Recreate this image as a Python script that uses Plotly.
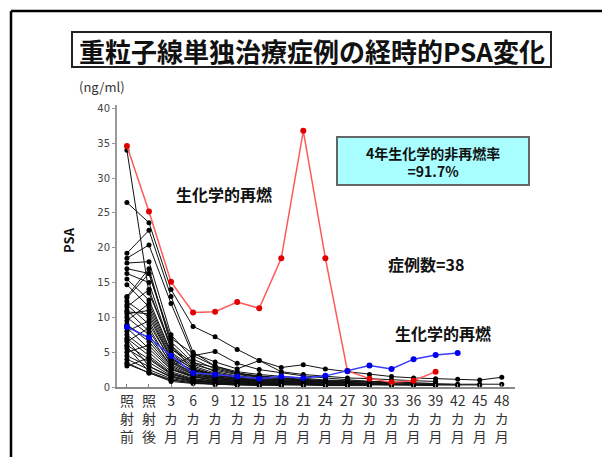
import plotly.graph_objects as go

# Time points (x axis categories), drawn as vertical stacked labels
time_points = ["照射前", "照射後", "3カ月", "6カ月", "9カ月", "12カ月", "15カ月", "18カ月", "21カ月",
               "24カ月", "27カ月", "30カ月", "33カ月", "36カ月", "39カ月", "42カ月", "45カ月", "48カ月"]
tick_text = ["照<br>射<br>前", "照<br>射<br>後"] + [t.replace("カ月", "") + "<br>カ<br>月" for t in time_points[2:]]

y_ticks = [0, 5, 10, 15, 20, 25, 30, 35, 40]

N = None
# PSA (ng/ml) per case; None = no follow-up at that time point
black_cases = [
    [34.0, 13.5, 6.0, 2.5, 1.8, 1.2, 1.0, 0.8, 0.6, 0.5, 0.4, 0.4, 0.3, 0.3, 0.2, N, N, N],
    [26.5, 23.6, 14.0, 8.7, 7.2, 5.4, 3.8, 2.8, 3.2, 2.6, 2.2, 1.8, 1.5, 1.3, 1.2, 1.1, 1.0, 1.4],
    [19.2, 22.5, 13.0, 5.0, 3.0, 2.2, 1.8, 1.5, 1.2, 1.0, 0.9, 0.8, 0.7, 0.6, N, N, N, N],
    [18.5, 20.4, 12.0, 4.5, 5.1, 3.4, 2.5, 2.0, 1.6, 1.3, 1.0, 0.8, 0.7, 0.6, 0.5, N, N, N],
    [17.8, 18.0, 7.5, 4.0, 2.6, 1.9, 1.5, 1.2, 1.0, 0.8, 0.6, 0.5, 0.5, N, N, N, N, N],
    [17.0, 16.3, 6.5, 3.5, 2.2, 1.6, 1.3, 1.0, 0.8, 0.7, 0.6, 0.5, N, N, N, N, N, N],
    [16.3, 15.0, 5.5, 3.0, 2.0, 1.5, 1.2, 1.0, 0.9, 0.8, 0.7, N, N, N, N, N, N, N],
    [15.5, 12.5, 5.0, 2.8, 1.8, 1.4, 1.1, 0.9, 0.8, 0.7, 0.6, 0.5, 0.4, 0.4, 0.3, 0.3, N, N],
    [14.7, 11.5, 4.5, 2.6, 1.7, 1.2, 1.0, 0.8, 0.7, 0.6, N, N, N, N, N, N, N, N],
    [13.0, 17.0, 6.0, 3.2, 2.4, 1.8, 1.4, 1.2, 1.0, 0.9, 0.8, 0.7, 0.6, 0.5, 0.4, 0.4, 0.4, 0.4],
    [12.3, 10.0, 4.0, 2.4, 1.6, 1.2, 0.9, 0.7, 0.6, 0.5, 0.4, 0.4, 0.3, N, N, N, N, N],
    [11.8, 9.0, 3.8, 2.0, 1.4, 1.0, 0.8, 0.7, 0.6, 0.5, N, N, N, N, N, N, N, N],
    [11.5, 14.0, 5.5, 3.5, 2.8, 2.0, 1.6, 1.3, 1.1, 0.9, 0.8, 0.7, 0.6, 0.5, N, N, N, N],
    [11.0, 8.0, 3.5, 1.8, 1.3, 0.9, 0.7, 0.6, 0.5, 0.4, 0.3, N, N, N, N, N, N, N],
    [10.5, 11.0, 4.2, 2.2, 1.5, 1.1, 0.9, 0.8, 0.7, N, N, N, N, N, N, N, N, N],
    [10.0, 7.5, 3.0, 1.6, 1.2, 0.9, 0.7, 0.6, 0.5, 0.4, 0.3, 0.3, 0.3, 0.3, 0.2, N, N, N],
    [9.5, 12.0, 4.8, 2.5, 1.9, 1.4, 1.2, 1.0, 0.8, 0.7, 0.6, N, N, N, N, N, N, N],
    [9.0, 6.5, 2.8, 1.5, 1.0, 0.8, 0.6, 0.5, 0.4, 0.4, N, N, N, N, N, N, N, N],
    [8.5, 5.5, 2.5, 1.4, 1.0, 0.7, 0.6, 0.5, 0.4, 0.3, 0.3, 0.3, N, N, N, N, N, N],
    [8.0, 9.5, 3.6, 2.0, 1.4, 1.0, 0.8, 0.7, 0.6, 0.5, N, N, N, N, N, N, N, N],
    [7.5, 5.0, 2.2, 1.2, 0.9, 0.7, 0.5, 0.4, 0.4, N, N, N, N, N, N, N, N, N],
    [7.0, 4.5, 2.0, 1.1, 0.8, 0.6, 0.5, 0.4, 0.3, 0.3, 0.2, N, N, N, N, N, N, N],
    [6.5, 8.5, 3.2, 1.8, 1.2, 0.9, 0.7, 0.6, 0.5, N, N, N, N, N, N, N, N, N],
    [6.0, 4.0, 1.8, 1.0, 0.7, 0.5, 0.4, 0.4, 0.3, 0.3, N, N, N, N, N, N, N, N],
    [5.5, 3.5, 1.6, 0.9, 0.6, 0.5, 0.4, 0.3, N, N, N, N, N, N, N, N, N, N],
    [5.0, 6.0, 2.6, 1.5, 1.0, 0.8, 0.6, 0.5, 0.4, 0.4, 0.3, N, N, N, N, N, N, N],
    [4.5, 3.0, 1.4, 0.8, 0.6, 0.4, 0.3, 0.3, N, N, N, N, N, N, N, N, N, N],
    [4.0, 2.5, 1.2, 0.7, 0.5, 0.4, 0.3, N, N, N, N, N, N, N, N, N, N, N],
    [3.5, 2.0, 1.0, 0.6, 0.4, 0.3, N, N, N, N, N, N, N, N, N, N, N, N],
    [3.0, 4.2, 1.9, 1.0, 0.7, 0.5, 0.4, 0.3, 0.3, N, N, N, N, N, N, N, N, N],
    [12.8, 16.3, 7.0, 4.8, 3.6, 2.6, 3.8, 2.2, 1.8, 1.5, 1.3, 1.2, 1.0, 0.9, 0.8, N, N, N],
    [10.8, 10.5, 4.0, 2.3, 1.8, 1.3, 1.0, 0.8, 0.7, 0.6, 0.5, 0.5, 0.4, 0.4, 0.3, 0.3, 0.3, N],
    [8.8, 7.0, 3.0, 4.5, 3.0, 2.0, 1.5, 1.2, 1.0, 0.8, N, N, N, N, N, N, N, N],
    [6.8, 3.0, 1.5, 0.8, 0.6, 0.5, 0.4, 0.3, 0.3, 0.2, 0.2, 0.2, N, N, N, N, N, N],
    [5.8, 2.2, 1.0, 0.6, 0.4, 0.3, 0.3, 0.2, N, N, N, N, N, N, N, N, N, N],
    [3.3, 2.0, 0.8, 0.5, 0.4, 0.3, 0.2, N, N, N, N, N, N, N, N, N, N, N],
]

# Two cases with biochemical relapse
red_case = [34.6, 25.2, 15.1, 10.7, 10.8, 12.2, 11.3, 18.5, 36.8, 18.5, 2.3, 1.2, 0.7, 0.9, 2.2, N, N, N]
blue_case = [8.6, 7.1, 4.5, 2.0, 1.8, 1.5, 1.2, 1.5, 1.3, 1.6, 2.3, 3.1, 2.6, 4.0, 4.6, 4.9, N, N]

# pixel geometry of the plotting area
PX_L, PX_R, PX_T, PX_B = 117, 515, 105, 387
W, H = 602, 457


def px(x, y):
    """Convert page pixel position to paper coordinates."""
    return (x - PX_L) / (PX_R - PX_L), (PX_B - y) / (PX_B - PX_T)


x_idx = list(range(len(time_points)))

fig = go.Figure()
for case in black_cases:
    fig.add_trace(go.Scatter(
        x=x_idx, y=case, mode="lines+markers",
        line=dict(color="#111111", width=1),
        marker=dict(color="#000000", size=5),
        connectgaps=False, hoverinfo="skip"))

fig.add_trace(go.Scatter(
    x=x_idx, y=red_case, mode="lines+markers",
    line=dict(color="#ff5a5a", width=1.5),
    marker=dict(color="#e00000", size=6), hoverinfo="skip"))
fig.add_trace(go.Scatter(
    x=x_idx, y=blue_case, mode="lines+markers",
    line=dict(color="#3a3aff", width=1.5),
    marker=dict(color="#0000ee", size=6), hoverinfo="skip"))

FONT = "Noto Sans CJK JP"
annotations = []


def add_text(text, x, y, size, color="#111111", **kw):
    xp, yp = px(x, y)
    annotations.append(dict(
        text=text, x=xp, y=yp, xref="paper", yref="paper",
        showarrow=False, xanchor="center", yanchor="middle",
        font=dict(family=FONT, size=size, color=color), **kw))


add_text("<b>重粒子線単独治療症例の経時的PSA変化</b>", 312, 50, 26)
add_text("(ng/ml)", 102, 86, 13, color="#333333")
add_text("<b>PSA</b>", 68, 240, 13, textangle=-90)
add_text("<b>生化学的再燃</b>", 224, 194, 16)
add_text("<b>生化学的再燃</b>", 443, 333, 16)
add_text("<b>症例数=38</b>", 426, 264, 16)
add_text("<b>4年生化学的非再燃率<br>=91.7%</b>", 433, 162, 14)

shapes = []
# title frame
x0, y0 = px(72, 32)
x1, y1 = px(551, 67)
shapes.append(dict(type="rect", xref="paper", yref="paper", x0=x0, y0=y0, x1=x1, y1=y1,
                   line=dict(color="#222222", width=2), fillcolor="rgba(0,0,0,0)"))
# cyan note box
x0, y0 = px(337, 137)
x1, y1 = px(529, 185)
shapes.append(dict(type="rect", xref="paper", yref="paper", x0=x0, y0=y0, x1=x1, y1=y1,
                   line=dict(color="#666666", width=2), fillcolor="#a9ffff", layer="below"))
# page frame (top and left edges)
x0, y0 = px(11, 11)
x1, _ = px(W + 5, 11)
_, yb = px(11, H + 5)
shapes.append(dict(type="line", xref="paper", yref="paper", x0=x0, y0=y0, x1=x1, y1=y0,
                   line=dict(color="#000000", width=2.5)))
shapes.append(dict(type="line", xref="paper", yref="paper", x0=x0, y0=y0, x1=x0, y1=yb,
                   line=dict(color="#000000", width=2.5)))

fig.update_layout(
    width=W, height=H,
    margin=dict(l=PX_L, r=W - PX_R, t=PX_T, b=H - PX_B),
    paper_bgcolor="white", plot_bgcolor="white",
    showlegend=False,
    annotations=annotations, shapes=shapes,
    xaxis=dict(
        range=[-0.45, 17.6], tickmode="array", tickvals=x_idx, ticktext=tick_text,
        showgrid=False, zeroline=False, showline=True, linecolor="#888888", linewidth=2,
        ticks="inside", ticklen=3, tickcolor="#888888",
        tickfont=dict(family=FONT, size=14, color="#333333")),
    yaxis=dict(
        range=[0, 40.5], tickmode="array", tickvals=y_ticks,
        showgrid=False, zeroline=False, showline=True, linecolor="#999999", linewidth=2,
        ticks="outside", ticklen=3, tickcolor="#999999",
        tickfont=dict(family="DejaVu Sans", size=10, color="#444444")),
)

fig.write_html("out.html")
